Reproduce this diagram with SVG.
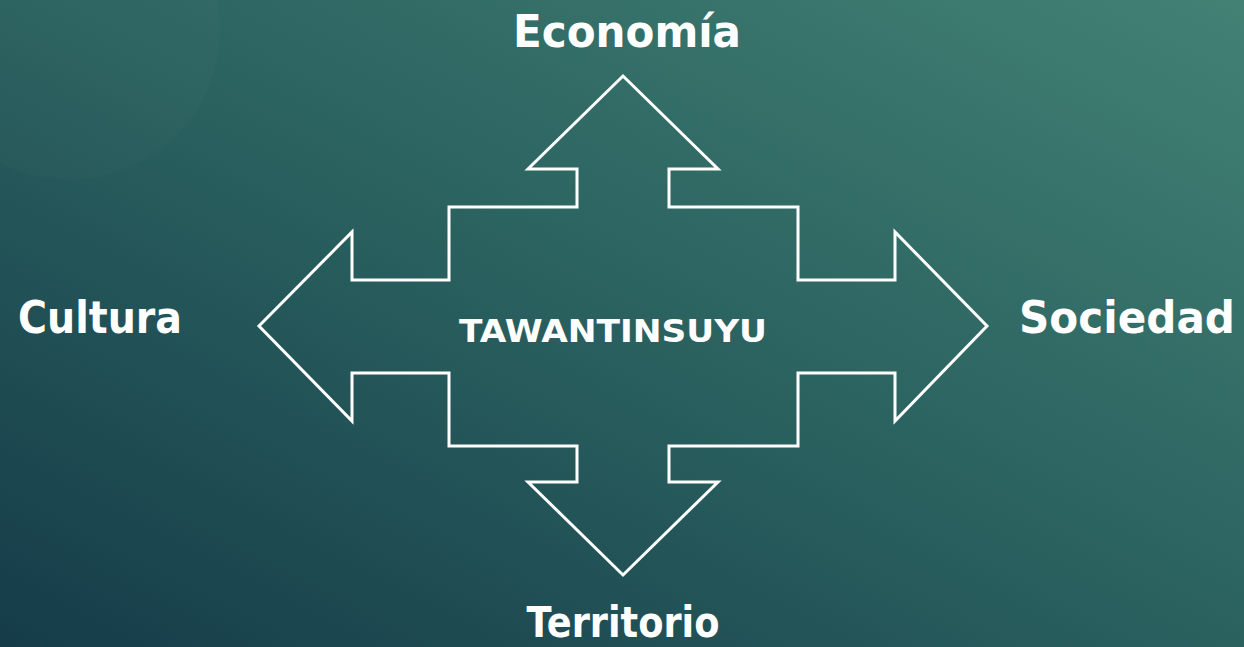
<svg xmlns="http://www.w3.org/2000/svg" width="1244" height="647" viewBox="0 0 1244 647">
<defs>
<linearGradient id="bg" x1="0" y1="1" x2="1" y2="0">
<stop offset="0" stop-color="#153b49"/>
<stop offset="0.5" stop-color="#2a615f"/>
<stop offset="1" stop-color="#428174"/>
</linearGradient>
</defs>
<style>
.lbl{font-family:"DejaVu Sans","Liberation Sans",sans-serif;font-weight:bold;fill:#ffffff;text-anchor:middle}
.shape{fill:none;stroke:#ffffff;stroke-width:3;stroke-linejoin:miter}
</style>
<rect x="0" y="0" width="1244" height="647" fill="url(#bg)"/>
<circle cx="70" cy="30" r="150" fill="#ffffff" fill-opacity="0.015"/>
<g id="connectors">
<path id="cross-arrow" class="shape" d="M623,76 L718,169 L669,169 L669,207 L798,207 L798,280 L895,280 L895,232 L987,326 L895,421 L895,373 L798,373 L798,446 L669,446 L669,482 L718,482 L623,575 L528,482 L577,482 L577,446 L449,446 L449,373 L352,373 L352,421 L259,326 L352,232 L352,280 L449,280 L449,207 L577,207 L577,169 L528,169 Z"/>
</g>
<g id="node-center"><text class="lbl" x="613" y="342" font-size="32" textLength="308" lengthAdjust="spacingAndGlyphs">TAWANTINSUYU</text></g>
<g id="node-economia"><text class="lbl" x="627" y="47" font-size="44" textLength="228" lengthAdjust="spacingAndGlyphs">Economía</text></g>
<g id="node-cultura"><text class="lbl" x="100" y="333" font-size="44" textLength="164" lengthAdjust="spacingAndGlyphs">Cultura</text></g>
<g id="node-sociedad"><text class="lbl" x="1127" y="333" font-size="44" textLength="216" lengthAdjust="spacingAndGlyphs">Sociedad</text></g>
<g id="node-territorio"><text class="lbl" x="623" y="637" font-size="42" textLength="193" lengthAdjust="spacingAndGlyphs">Territorio</text></g>
</svg>
